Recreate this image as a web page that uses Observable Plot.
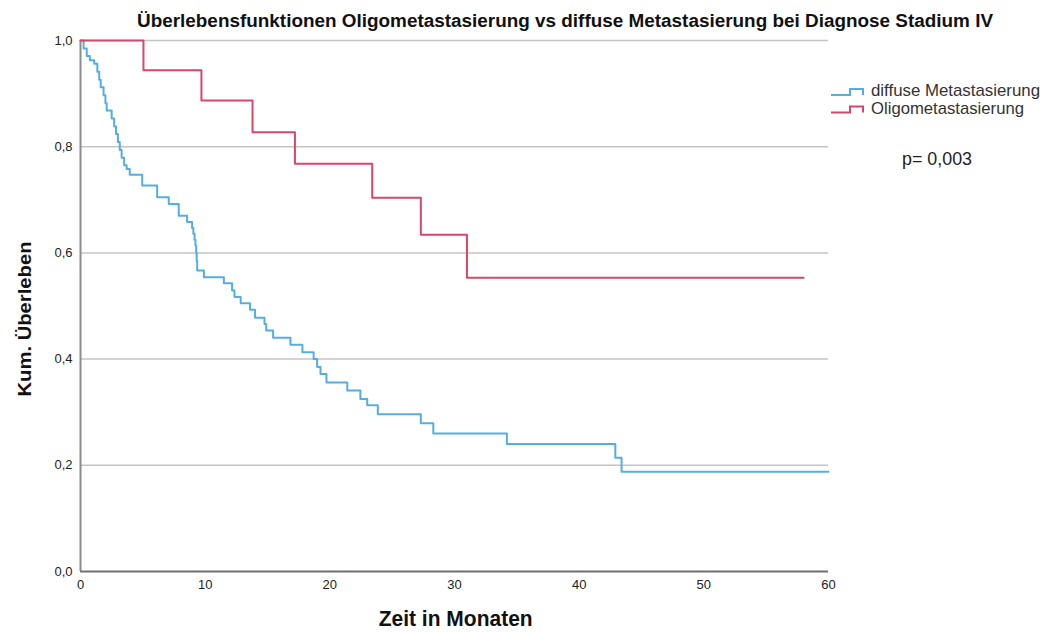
<!DOCTYPE html>
<html><head><meta charset="utf-8">
<script src="https://cdn.jsdelivr.net/npm/d3@7"></script>
<script src="https://cdn.jsdelivr.net/npm/@observablehq/plot@0.6"></script>
<style>
body{margin:0;background:#fff;}
#wrap{position:relative;width:1052px;height:632px;font-family:"Liberation Sans",Arial,sans-serif;overflow:hidden;}
.txt{position:absolute;white-space:nowrap;line-height:1;display:inline-block;}
#title{left:137px;top:11.8px;font-weight:bold;font-size:18px;color:#111;transform-origin:0 50%;}
.legtxt{left:871px;font-size:17px;color:#333;transform-origin:0 50%;}
#pval{left:901.7px;top:151.2px;font-size:17.5px;color:#222;transform-origin:0 50%;}
#xlab{top:608px;font-size:22px;font-weight:bold;color:#111;}
#ylab{font-size:18px;font-weight:bold;color:#111;}
#legicons{position:absolute;left:830px;top:84px;}
</style></head>
<body>
<div id="wrap">
<div id="chart"></div>
<div id="title" class="txt">Überlebensfunktionen Oligometastasierung vs diffuse Metastasierung bei Diagnose Stadium IV</div>
<svg id="legicons" width="36" height="34"></svg>
<div id="leg0" class="txt legtxt" style="top:82.3px"></div>
<div id="leg1" class="txt legtxt" style="top:99.6px"></div>
<div id="pval" class="txt">p= 0,003</div>
<div id="xlab" class="txt">Zeit in Monaten</div>
<div id="ylab" class="txt">Kum. Überleben</div>
</div>
<script>
const seriesNames = ["diffuse Metastasierung", "Oligometastasierung"];
const seriesColors = ["#55AEE3", "#D9466A"];
const xTicks = [0, 10, 20, 30, 40, 50, 60];
const yTicks = [0, 0.2, 0.4, 0.6, 0.8, 1.0];

const diffuseTime = [0, 0.25, 0.5, 0.75, 1.1, 1.35, 1.5, 1.62, 1.85, 2.0, 2.1, 2.5, 2.7, 2.85, 3.0, 3.15, 3.3, 3.5, 3.7, 3.95,
  4.95, 6.15, 7.08, 7.88, 8.55, 8.95, 9.05, 9.15, 9.22, 9.28, 9.32, 9.36, 9.9, 11.5, 12.16, 12.35, 12.85, 13.6, 14.0, 14.76, 14.9,
  15.45, 16.84, 17.8, 18.7, 18.98, 19.25, 19.73, 21.4, 22.45, 23.0, 23.85, 27.3, 28.3, 34.2, 42.9, 43.4, 60];
const diffuseSurv = [1.0, 0.985, 0.971, 0.963, 0.956, 0.941, 0.926, 0.912, 0.897, 0.882, 0.868, 0.853, 0.838, 0.824, 0.809, 0.794, 0.779, 0.765, 0.758, 0.747,
  0.727, 0.705, 0.692, 0.670, 0.658, 0.647, 0.636, 0.625, 0.614, 0.600, 0.585, 0.567, 0.554, 0.543, 0.529, 0.517, 0.505, 0.493, 0.478, 0.466, 0.454,
  0.440, 0.427, 0.413, 0.400, 0.385, 0.372, 0.356, 0.341, 0.325, 0.313, 0.296, 0.279, 0.260, 0.240, 0.214, 0.188, 0.188];

const oligoTime = [0, 5.05, 9.7, 13.8, 17.2, 23.4, 27.3, 31.0, 58];
const oligoSurv = [1.0, 0.944, 0.887, 0.827, 0.768, 0.704, 0.634, 0.553, 0.553];

const diffuse = diffuseTime.map((t, i) => ({t, s: diffuseSurv[i], g: seriesNames[0]}));
const oligo = oligoTime.map((t, i) => ({t, s: oligoSurv[i], g: seriesNames[1]}));

const fmt = d => d.toFixed(1).replace(".", ",");

const plot = Plot.plot({
  width: 1052, height: 632,
  marginLeft: 80, marginRight: 224, marginTop: 40, marginBottom: 61,
  style: {fontFamily: "Liberation Sans, Arial, sans-serif", fontSize: "13px", color: "#222", background: "#fff"},
  x: {domain: [0, 60], ticks: xTicks, tickSize: 0, tickPadding: 8, label: null},
  y: {domain: [0, 1], ticks: yTicks, tickSize: 0, tickPadding: 8, tickFormat: fmt, label: null},
  marks: [
    Plot.ruleY(yTicks.filter(d => d > 0), {stroke: "#c4c4c4", strokeWidth: 1.5}),
    Plot.ruleX([0], {stroke: "#8c8c8c", strokeWidth: 2}),
    Plot.ruleY([0], {stroke: "#707070", strokeWidth: 2}),
    Plot.line(diffuse, {x: "t", y: "s", curve: "step-after", stroke: seriesColors[0], strokeWidth: 2}),
    Plot.line(oligo, {x: "t", y: "s", curve: "step-after", stroke: seriesColors[1], strokeWidth: 2})
  ]
});
document.getElementById("chart").appendChild(plot);

// legend
const icons = d3.select("#legicons");
seriesNames.forEach((n, i) => {
  const y0 = 11 + i * 17.5;
  icons.append("path").attr("d", `M1,${y0}H20V${y0 - 6}H33V${y0}`)
    .attr("fill", "none").attr("stroke", seriesColors[i]).attr("stroke-width", 2);
  document.getElementById("leg" + i).textContent = n;
});

function fitX(el, w) {
  const nat = el.getBoundingClientRect().width;
  el.style.transform = `scaleX(${w / nat})`;
}
fitX(document.getElementById("title"), 856);
fitX(document.getElementById("leg0"), 169);
fitX(document.getElementById("leg1"), 153);
fitX(document.getElementById("pval"), 70);

const xl = document.getElementById("xlab");
const xw = xl.getBoundingClientRect().width;
xl.style.left = (456 - xw / 2) + "px";
xl.style.transform = `scaleX(${154 / xw})`;

const yl = document.getElementById("ylab");
const yw = yl.getBoundingClientRect().width;
yl.style.left = "25px"; yl.style.top = "319px";
yl.style.transform = `translate(-50%,-50%) rotate(-90deg) scaleX(${155 / yw})`;
</script>
</body></html>
